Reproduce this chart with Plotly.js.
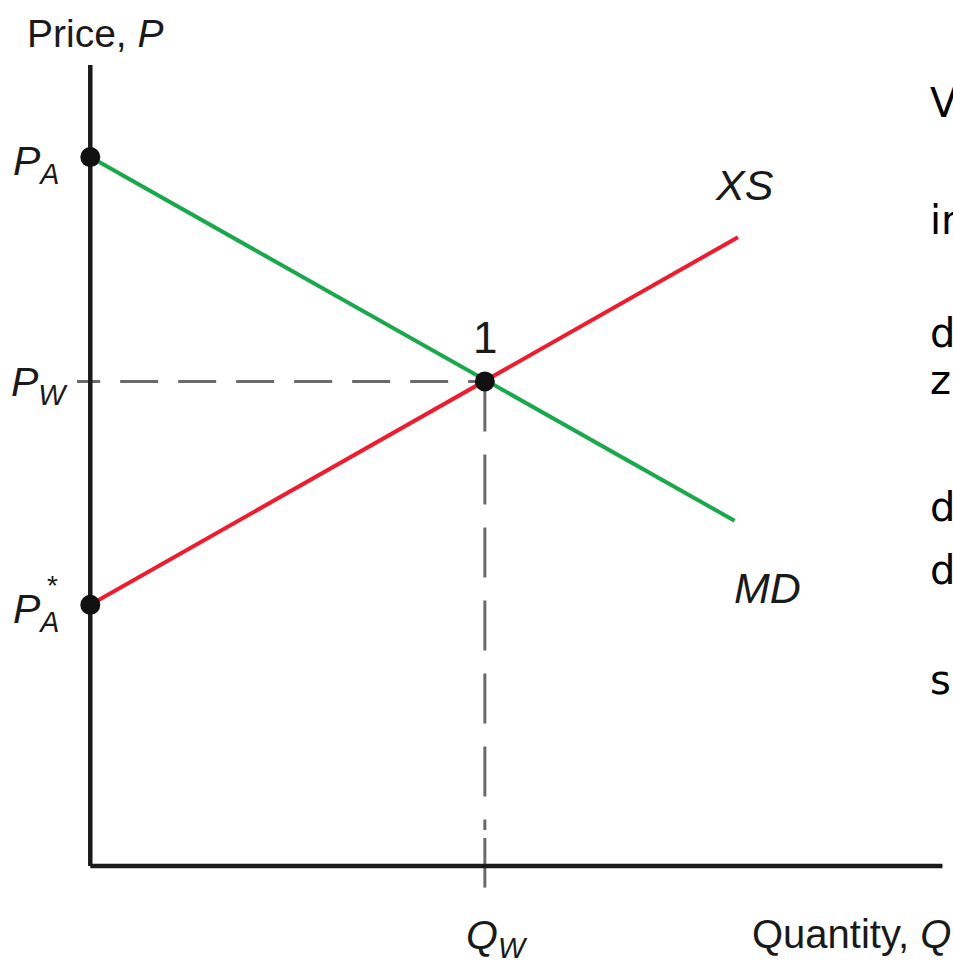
<!DOCTYPE html>
<html>
<head>
<meta charset="utf-8">
<script src="https://cdn.plot.ly/plotly-3.0.1.min.js"></script>
<style>html,body{margin:0;padding:0;background:#fff;}#chart{width:953px;height:966px;}</style>
</head>
<body>
<div id="chart"></div>
<script>
// Key values (arbitrary units)
const PA = 8.85;       // autarky price at home
const PAstar = 3.26;   // autarky price abroad
const PW = 6.05;       // world price
const QW = 4.63;       // traded quantity
const mdX = [0, 7.56];
const mdY = [PA, 4.31];
const xsX = [0, 7.60];
const xsY = [PAstar, 7.85];
const axisMaxX = 10;
const axisMaxY = 10;
const pointX = [0, 0, QW];
const pointY = [PA, PAstar, PW];
const dashLeft = -0.33;
const dashEndY = 0.45;
const tickTop = 0.35;
const tickBottom = -0.27;
const sideText = ['V', 'in', 'd', 'z', 'd', 'd', 's'];
const sideTextY = [0.954, 0.813, 0.677, 0.620, 0.467, 0.391, 0.258];

const sans = 'Liberation Sans, Arial, Helvetica, sans-serif';
const guideColor = '#6a6a6a';

const traces = [
  {x: [dashLeft, QW], y: [PW, PW], mode: 'lines', line: {color: guideColor, width: 3, dash: '38px,20px'}},
  {x: [QW, QW], y: [PW, dashEndY], mode: 'lines', line: {color: guideColor, width: 3, dash: '50px,23px'}},
  {x: [QW, QW], y: [tickTop, tickBottom], mode: 'lines', line: {color: guideColor, width: 3}},
  {x: [0, 0], y: [0, axisMaxY], mode: 'lines', line: {color: '#1a1a1a', width: 4.5}},
  {x: [0, axisMaxX], y: [0, 0], mode: 'lines', line: {color: '#1a1a1a', width: 4.5}},
  {x: mdX, y: mdY, mode: 'lines', line: {color: '#1aa84c', width: 4}},
  {x: xsX, y: xsY, mode: 'lines', line: {color: '#ee1c2e', width: 4}},
  {x: pointX, y: pointY, mode: 'markers', marker: {color: '#111', size: 20}, cliponaxis: false}
];

const annotations = [
  {xref: 'paper', yref: 'paper', x: 0.0206, y: 1.0, yshift: 32, text: 'Price, <i>P</i>', font: {size: 39}},
  {xref: 'paper', yref: 'y', x: 0, xshift: -41, y: PA, yshift: -7, text: '<i>P</i><sub><i>A</i></sub>', font: {size: 41}},
  {xref: 'paper', yref: 'y', x: 0, xshift: -38, y: PW, yshift: -4, text: '<i>P</i><sub><i>W</i></sub>', font: {size: 41}},
  {xref: 'paper', yref: 'y', x: 0, xshift: -41, y: PAstar, yshift: -7, text: '<i>P</i><sub><i>A</i></sub>', font: {size: 41}},
  {xref: 'paper', yref: 'y', x: 0, xshift: -25, y: PAstar, yshift: 19, text: '*', font: {size: 28}},
  {xref: 'x', yref: 'y', x: QW, y: PW, yshift: 44, text: '1', font: {size: 44}},
  {xref: 'x', yref: 'y', x: xsX[1], y: xsY[1], xshift: 7, yshift: 52, text: '<i>XS</i>', font: {size: 43}},
  {xref: 'x', yref: 'y', x: mdX[1], y: mdY[1], xshift: 33, yshift: -67, text: '<i>MD</i>', font: {size: 43}},
  {xref: 'x', yref: 'paper', x: QW, xshift: 12, y: 0, yshift: -44, text: '<i>Q</i><sub><i>W</i></sub>', font: {size: 41}},
  {xref: 'paper', yref: 'paper', x: 1, xanchor: 'right', xshift: 2, y: 0, yshift: -40, text: 'Quantity, <i>Q</i>', font: {size: 40}}
];
sideText.forEach((t, i) => {
  annotations.push({xref: 'paper', yref: 'paper', x: 0.9737, xanchor: 'left', y: sideTextY[i],
    text: t, font: {family: 'DejaVu Sans, Verdana, sans-serif', size: 40, color: '#000'}});
});
annotations.forEach(a => {
  a.showarrow = false;
  if (!a.xanchor) a.xanchor = 'center';
  a.yanchor = 'middle';
  if (!a.font.family) a.font.family = sans;
  if (!a.font.color) a.font.color = '#1a1a1a';
});

const layout = {
  width: 953, height: 966,
  margin: {l: 77, r: 2, t: 65, b: 72, pad: 0},
  paper_bgcolor: '#fff', plot_bgcolor: '#fff',
  showlegend: false,
  hovermode: false,
  xaxis: {range: [-0.156, 10.1], visible: false, fixedrange: true},
  yaxis: {range: [-0.35, 10], visible: false, fixedrange: true},
  annotations: annotations
};

Plotly.newPlot('chart', traces, layout, {staticPlot: true, displayModeBar: false});
</script>
</body>
</html>
